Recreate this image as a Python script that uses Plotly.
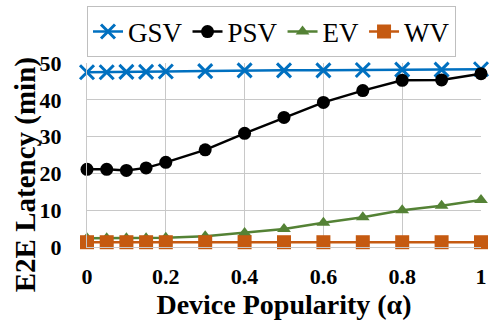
import plotly.graph_objects as go

# Device popularity values on the x axis
alpha = [0, 0.05, 0.1, 0.15, 0.2, 0.3, 0.4, 0.5, 0.6, 0.7, 0.8, 0.9, 1.0]

# End-to-end latency (minutes) per scheme
gsv = [47.5, 47.5, 47.6, 47.6, 47.7, 47.8, 48.0, 48.0, 48.0, 48.1, 48.2, 48.2, 48.3]
psv = [21.1, 21.1, 20.8, 21.5, 23.0, 26.4, 30.9, 35.2, 39.3, 42.5, 45.3, 45.4, 47.1]
ev = [2.4, 2.4, 2.4, 2.4, 2.5, 2.9, 3.8, 4.9, 6.6, 8.1, 10.0, 11.2, 12.8]
wv = [1.3, 1.3, 1.3, 1.3, 1.3, 1.3, 1.3, 1.3, 1.3, 1.3, 1.3, 1.3, 1.3]

x_ticks = [0, 0.2, 0.4, 0.6, 0.8, 1.0]
x_tick_text = ["0", "0.2", "0.4", "0.6", "0.8", "1"]
y_ticks = [0, 10, 20, 30, 40, 50]

SERIF = "Liberation Serif, DejaVu Serif, serif"

fig = go.Figure()
fig.add_trace(go.Scatter(
    x=alpha, y=gsv, name="GSV", mode="lines+markers",
    line=dict(color="#0070C0", width=2.5),
    marker=dict(symbol="x-thin", size=14, line=dict(color="#0070C0", width=3)),
    cliponaxis=False))
fig.add_trace(go.Scatter(
    x=alpha, y=psv, name="PSV", mode="lines+markers",
    line=dict(color="#000000", width=2.5),
    marker=dict(symbol="circle", size=13, color="#000000"),
    cliponaxis=False))
fig.add_trace(go.Scatter(
    x=alpha, y=ev, name="EV", mode="lines+markers",
    line=dict(color="#548235", width=2.5),
    marker=dict(symbol="triangle-up", size=12, color="#548235"),
    cliponaxis=False))
fig.add_trace(go.Scatter(
    x=alpha, y=wv, name="WV", mode="lines+markers",
    line=dict(color="#C55A11", width=2.5),
    marker=dict(symbol="square", size=14, color="#C55A11"),
    cliponaxis=False))

fig.update_layout(
    width=493, height=320,
    margin=dict(l=87, r=6, t=42, b=73),
    paper_bgcolor="white", plot_bgcolor="white",
    font=dict(family=SERIF, color="black"),
    showlegend=True,
    legend=dict(
        orientation="h", x=0, xanchor="left", y=1.03, yanchor="bottom",
        bordercolor="#BFBFBF", borderwidth=1, bgcolor="white",
        font=dict(family=SERIF, size=27, color="black"),
        itemwidth=30, tracegroupgap=0,
    ),
    xaxis=dict(
        range=[0, 1], tickvals=x_ticks, ticktext=x_tick_text,
        showgrid=True, gridcolor="#C8C8C8", gridwidth=1,
        zeroline=False, showline=True, linecolor="#C8C8C8",
        ticks="", ticklabelstandoff=10, ticklabeloverflow="allow",
        tickfont=dict(family=SERIF, size=22, color="black", weight="bold"),
        title=dict(text="<b>Device Popularity (α)</b>", standoff=0,
                   font=dict(family=SERIF, size=28, color="black")),
    ),
    yaxis=dict(
        range=[0, 50], tickvals=y_ticks,
        showgrid=True, gridcolor="#C8C8C8", gridwidth=1,
        zeroline=False, showline=True, linecolor="#C8C8C8",
        ticks="", ticklabelstandoff=20,
        tickfont=dict(family=SERIF, size=22, color="black", weight="bold"),
    ),
    annotations=[dict(
        text="<b>E2E Latency (min)</b>", textangle=-90,
        xref="paper", yref="paper", x=-0.1575, y=0.395,
        xanchor="center", yanchor="middle", showarrow=False,
        font=dict(family=SERIF, size=29, color="black"),
    )],
)

fig.write_html("out.html")
